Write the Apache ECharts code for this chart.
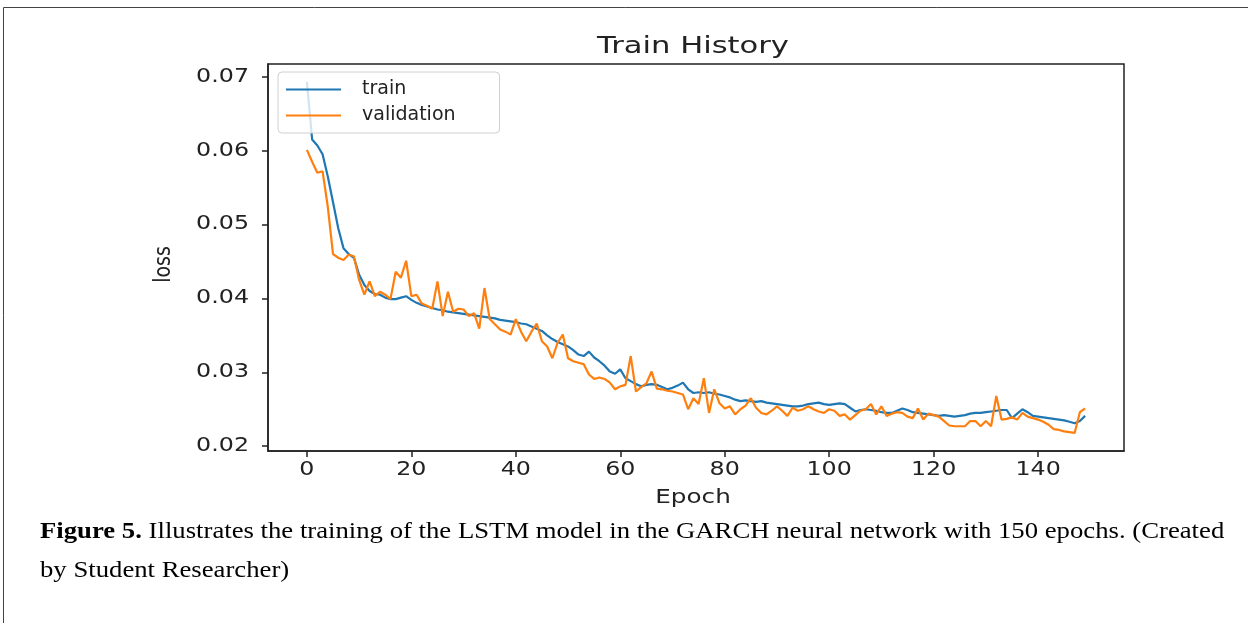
<!DOCTYPE html>
<html>
<head>
<meta charset="utf-8">
<script src="https://cdn.jsdelivr.net/npm/echarts@6/dist/echarts.min.js"></script>
<style>
html, body { margin: 0; padding: 0; background: #fff; }
#chart { width: 1248px; height: 623px; }
</style>
</head>
<body>
<div id="chart"></div>
<script>
// loss values, one per epoch (0..149)
var trainLoss = [
	0.0693, 0.0615, 0.0607, 0.0595, 0.0565, 0.0530, 0.0495, 0.0468, 0.0460, 0.0455,
	0.0432, 0.0418, 0.0410, 0.0406, 0.0405, 0.0401, 0.0399, 0.0399, 0.0401, 0.0403,
	0.0398, 0.0394, 0.0391, 0.0389, 0.0387, 0.0385, 0.0384, 0.0382, 0.0381, 0.0380,
	0.0379, 0.0378, 0.0377, 0.0376, 0.0375, 0.0374, 0.0373, 0.0371, 0.0370, 0.0369,
	0.0368, 0.0366, 0.0365, 0.0362, 0.0359, 0.0356, 0.0350, 0.0345, 0.0341, 0.0338,
	0.0335, 0.0330, 0.0324, 0.0322, 0.0328, 0.0320, 0.0315, 0.0309, 0.0301, 0.0298,
	0.0304, 0.0292, 0.0288, 0.0284, 0.0281, 0.0283, 0.0284, 0.0283, 0.0280, 0.0277,
	0.0279, 0.0282, 0.0286, 0.0277, 0.0272, 0.0273, 0.0272, 0.0273, 0.0271, 0.0270,
	0.0268, 0.0266, 0.0263, 0.0261, 0.0262, 0.0261, 0.0260, 0.0261, 0.0259, 0.0258,
	0.0257, 0.0256, 0.0255, 0.0254, 0.0254, 0.0255, 0.0257, 0.0258, 0.0259, 0.0257,
	0.0256, 0.0257, 0.0258, 0.0257, 0.0252, 0.0247, 0.0249, 0.0250, 0.0249, 0.0248,
	0.0246, 0.0245, 0.0245, 0.0248, 0.0251, 0.0249, 0.0246, 0.0245, 0.0244, 0.0243,
	0.0242, 0.0241, 0.0242, 0.0241, 0.0240, 0.0241, 0.0242, 0.0244, 0.0245, 0.0245,
	0.0246, 0.0247, 0.0248, 0.0249, 0.0249, 0.0238, 0.0244, 0.0250, 0.0246, 0.0241,
	0.0240, 0.0239, 0.0238, 0.0237, 0.0236, 0.0235, 0.0233, 0.0231, 0.0234, 0.0241
];
var valLoss = [
	0.0601, 0.0585, 0.0570, 0.0572, 0.0524, 0.0460, 0.0455, 0.0452, 0.0459, 0.0457,
	0.0425, 0.0405, 0.0423, 0.0403, 0.0409, 0.0405, 0.0399, 0.0436, 0.0428, 0.0451,
	0.0403, 0.0405, 0.0393, 0.0390, 0.0386, 0.0423, 0.0376, 0.0409, 0.0382, 0.0386,
	0.0385, 0.0376, 0.0380, 0.0359, 0.0414, 0.0372, 0.0365, 0.0358, 0.0355, 0.0351,
	0.0372, 0.0355, 0.0342, 0.0355, 0.0366, 0.0342, 0.0335, 0.0319, 0.0340, 0.0351,
	0.0319, 0.0315, 0.0313, 0.0311, 0.0297, 0.0291, 0.0293, 0.0291, 0.0286, 0.0277,
	0.0281, 0.0283, 0.0322, 0.0274, 0.0280, 0.0285, 0.0301, 0.0278, 0.0277, 0.0275,
	0.0274, 0.0272, 0.0270, 0.0250, 0.0265, 0.0257, 0.0292, 0.0245, 0.0277, 0.0258,
	0.0251, 0.0254, 0.0243, 0.0250, 0.0255, 0.0265, 0.0252, 0.0245, 0.0243, 0.0248,
	0.0254, 0.0248, 0.0241, 0.0252, 0.0248, 0.0250, 0.0254, 0.0250, 0.0247, 0.0245,
	0.0250, 0.0248, 0.0241, 0.0243, 0.0236, 0.0242, 0.0248, 0.0250, 0.0257, 0.0243,
	0.0254, 0.0241, 0.0244, 0.0246, 0.0245, 0.0240, 0.0238, 0.0251, 0.0236, 0.0244,
	0.0242, 0.0240, 0.0234, 0.0228, 0.0227, 0.0227, 0.0227, 0.0234, 0.0234, 0.0227,
	0.0234, 0.0227, 0.0268, 0.0236, 0.0237, 0.0239, 0.0236, 0.0245, 0.0240, 0.0238,
	0.0236, 0.0233, 0.0229, 0.0223, 0.0222, 0.0220, 0.0219, 0.0218, 0.0246, 0.0251
];
var xTicks = [0, 20, 40, 60, 80, 100, 120, 140];
var yTicks = [0.02, 0.03, 0.04, 0.05, 0.06, 0.07];
var xMin = -7.45, xMax = 156.45;
var yMin = 0.01935, yMax = 0.07172;

function pairs(arr) {
	var out = [];
	for (var i = 0; i < arr.length; i++) out.push([i, arr[i]]);
	return out;
}

// the figure in the paper is stretched sideways, so its texts are drawn wider
function wideText(str, x, y, align, size, sx, extra) {
	var el = {
		type: 'text', x: x, y: y, scaleX: sx, silent: true,
		style: { text: str, x: 0, y: 0, align: align, verticalAlign: 'middle',
			fontFamily: 'DejaVu Sans', fontSize: size, fill: '#222' }
	};
	if (extra) for (var k in extra) el[k] = extra[k];
	return el;
}

var myChart = echarts.init(document.getElementById('chart'));

var option = {
	backgroundColor: '#fff',
	animation: false,
	legend: {
		orient: 'vertical',
		left: 278, top: 72,
		data: ['train', 'validation'],
		icon: 'rect',
		itemWidth: 55, itemHeight: 2.2, itemGap: 7,
		padding: [8, 44, 8, 8],
		borderColor: '#d0d0d0', borderWidth: 1, borderRadius: 4,
		backgroundColor: 'rgba(255,255,255,0.8)',
		textStyle: { fontFamily: 'DejaVu Sans', fontSize: 19, color: '#222', padding: [0, 0, 0, 16] }
	},
	grid: {
		left: 268, right: 124, top: 64, bottom: 172,
		show: true, borderColor: '#222', borderWidth: 1.5
	},
	xAxis: {
		type: 'value',
		min: xMin, max: xMax,
		splitLine: { show: false },
		axisLine: { show: true, onZero: false, lineStyle: { color: '#222', width: 1.5 } },
		axisTick: { show: true, inside: false, length: 6, customValues: xTicks, lineStyle: { color: '#222', width: 1.5 } },
		axisLabel: { show: false }
	},
	yAxis: {
		type: 'value',
		min: yMin, max: yMax,
		splitLine: { show: false },
		axisLine: { show: true, onZero: false, lineStyle: { color: '#222', width: 1.5 } },
		axisTick: { show: true, inside: false, length: 6, customValues: yTicks, lineStyle: { color: '#222', width: 1.5 } },
		axisLabel: { show: false }
	},
	series: [
		{
			name: 'train', type: 'line', data: pairs(trainLoss),
			symbol: 'none', color: '#1f77b4',
			lineStyle: { width: 2.2, color: '#1f77b4' }
		},
		{
			name: 'validation', type: 'line', data: pairs(valLoss),
			symbol: 'none', color: '#ff7f0e',
			lineStyle: { width: 2.2, color: '#ff7f0e' }
		}
	]
};
myChart.setOption(option);

// tick labels, title and axis names placed from the chart's own scales
var g = [];
var topLeft = myChart.convertToPixel({ gridIndex: 0 }, [xMin, yMax]);
var botRight = myChart.convertToPixel({ gridIndex: 0 }, [xMax, yMin]);
var midX = (topLeft[0] + botRight[0]) / 2;
var midY = (topLeft[1] + botRight[1]) / 2;

yTicks.forEach(function (v) {
	var p = myChart.convertToPixel({ gridIndex: 0 }, [xMin, v]);
	g.push(wideText(v.toFixed(2), p[0] - 19, p[1], 'right', 19, 1.25));
});
xTicks.forEach(function (v) {
	var p = myChart.convertToPixel({ gridIndex: 0 }, [v, yMin]);
	g.push(wideText(String(v), p[0], p[1] + 19, 'center', 19, 1.25));
});
g.push(wideText('Train History', midX - 3, topLeft[1] - 17, 'center', 23, 1.33));
g.push(wideText('Epoch', midX - 3, botRight[1] + 47, 'center', 19, 1.3));
g.push(wideText('loss', topLeft[0] - 104, midY + 7, 'center', 19, 1, { rotation: Math.PI / 2, scaleY: 1.25 }));

// page frame of the figure box and the caption under it
g.push({ type: 'line', silent: true, shape: { x1: 3.5, y1: 7.5, x2: 1248, y2: 7.5 }, style: { stroke: '#444', lineWidth: 1 } });
g.push({ type: 'line', silent: true, shape: { x1: 3.5, y1: 7.5, x2: 3.5, y2: 623 }, style: { stroke: '#444', lineWidth: 1 } });
g.push({
	type: 'text', x: 40, y: 532, scaleX: 1.113, silent: true,
	style: {
		text: '{b|Figure 5.} Illustrates the training of the LSTM model in the GARCH neural network with 150 epochs. (Created',
		rich: { b: { fontFamily: 'Liberation Serif', fontSize: 24, fontWeight: 'bold', fill: '#000' } },
		x: 0, y: 0, verticalAlign: 'middle',
		fontFamily: 'Liberation Serif', fontSize: 24, fill: '#000'
	}
});
g.push({
	type: 'text', x: 40, y: 571, scaleX: 1.113, silent: true,
	style: { text: 'by Student Researcher)', x: 0, y: 0, verticalAlign: 'middle',
		fontFamily: 'Liberation Serif', fontSize: 24, fill: '#000' }
});
myChart.setOption({ graphic: g });
</script>
</body>
</html>
